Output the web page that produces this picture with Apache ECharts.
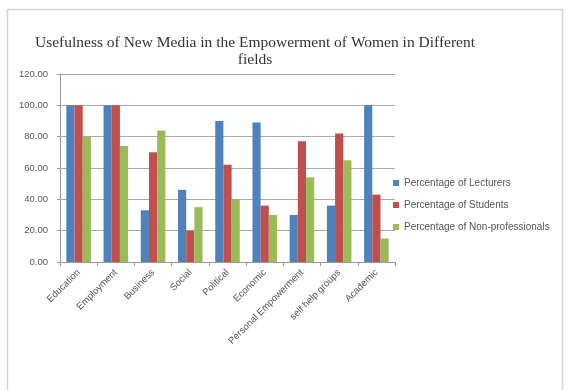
<!DOCTYPE html>
<html><head><meta charset="utf-8">
<script src="https://cdn.jsdelivr.net/npm/echarts@6/dist/echarts.min.js"></script>
<style>html,body{margin:0;padding:0;background:#fff}#c{width:565px;height:390px}</style>
</head><body><div id="c"></div>
<script>
const categories = ["Education","Employment","Business","Social","Political","Economic","Personal Empowerment","self help groups","Academic"];
const lecturers = [100, 100, 33, 46, 90, 89, 30, 36, 100];
const students = [100, 100, 70, 20, 62, 36, 77, 82, 43];
const nonProfessionals = [80, 74, 84, 35, 40, 30, 54, 65, 15];
const seriesNames = ["Percentage of Lecturers","Percentage of Students","Percentage of Non-professionals"];
const yTicks = {min: 0, max: 120, interval: 20};

const chart = echarts.init(document.getElementById('c'));
chart.setOption({
  animation: false,
  backgroundColor: '#fff',
  graphic: [{type:'rect', shape:{x:7.5,y:9.5,width:555,height:400}, style:{fill:'none', stroke:'#d4d4d4', lineWidth:1.5}, silent:true}],
  title: {
    text: 'Usefulness of New Media in the Empowerment of Women in Different\nfields',
    left: 250, top: 29, textAlign: 'center',
    textStyle: {fontFamily: 'Liberation Serif', fontSize: 15.5, fontWeight: 'normal', color: '#333', lineHeight: 17}
  },
  legend: {
    orient: 'vertical', left: 388, top: 173, itemWidth: 6, itemHeight: 6, itemGap: 12,
    icon: 'rect', textStyle: {fontSize: 10, color: '#555', fontFamily: 'Liberation Sans'},
    data: seriesNames
  },
  grid: {left: 60, right: 170, top: 74, bottom: 128},
  xAxis: {
    type: 'category', data: categories,
    axisLine: {lineStyle: {color: '#999'}},
    axisTick: {show: true, lineStyle: {color: '#999'}, length: 4},
    axisLabel: {rotate: 45, fontSize: 9.5, color: '#555', margin: 9, interval: 0, fontFamily: 'Liberation Sans'}
  },
  yAxis: {
    type: 'value', min: yTicks.min, max: yTicks.max, interval: yTicks.interval,
    axisLine: {show: true, lineStyle: {color: '#999'}},
    axisTick: {show: true, length: 3, lineStyle: {color: '#999'}},
    splitLine: {lineStyle: {color: '#aaa'}},
    axisLabel: {fontSize: 9.5, color: '#555', formatter: v => v.toFixed(2), margin: 12, fontFamily: 'Liberation Sans'}
  },
  series: [
    {name: seriesNames[0], type: 'bar', data: lecturers, itemStyle: {color: '#4F81BD'}, barGap: '0%', barCategoryGap: '34%'},
    {name: seriesNames[1], type: 'bar', data: students, itemStyle: {color: '#C0504D'}},
    {name: seriesNames[2], type: 'bar', data: nonProfessionals, itemStyle: {color: '#9BBB59'}}
  ]
});
</script></body></html>
